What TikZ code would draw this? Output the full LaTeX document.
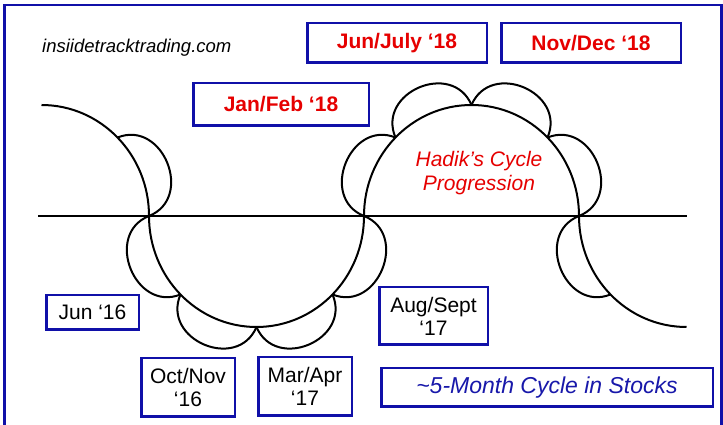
\documentclass[tikz,border=0pt]{standalone}
\usepackage{fontspec}
\setmainfont{Liberation Sans}
\usetikzlibrary{calc}
\definecolor{boxblue}{RGB}{16,16,168}
\definecolor{textblue}{RGB}{24,24,170}
\definecolor{myred}{RGB}{230,0,0}
\newcommand\bulgeL[2]{\draw[curve] (#1) .. controls ($(#1)!49pt!90:(#2)$) and ($(#2)!49pt!-90:(#1)$) .. (#2);}
\newcommand\bulgeR[2]{\draw[curve] (#1) .. controls ($(#1)!49pt!-90:(#2)$) and ($(#2)!49pt!90:(#1)$) .. (#2);}
\tikzset{
  curve/.style={line width=2pt, draw=black},
  datebox/.style={draw=boxblue, line width=2.5pt, inner sep=0pt, align=center, text=black, font=\fontsize{21}{23}\selectfont},
  redbox/.style={datebox, text=myred, font=\fontsize{21}{23}\selectfont\bfseries},
}
\begin{document}
\begin{tikzpicture}[x=1pt,y=1pt]
\useasboundingbox (0,0) rectangle (723,425);
\clip (0,0) rectangle (723,425);
\fill[white] (0,0) rectangle (723,425);
% frame
\draw[draw=boxblue, line width=2.5pt] (4.5,-10) rectangle (721.5,420);

% axis
\coordinate (hl0) at (38,209);
\coordinate (hl1) at (687,209);
\draw[curve] (hl0) -- (hl1);

% big wave
\coordinate (c1) at (41.5,209);
\coordinate (c2) at (256.5,209);
\coordinate (c3) at (471.5,209);
\coordinate (c4) at (686.5,209);
\coordinate (w0) at ($(c1)+(90:107.5 and 111)$);
\draw[curve] (w0) arc[start angle=90, end angle=0, x radius=107.5, y radius=111]
  arc[start angle=180, end angle=360, x radius=107.5, y radius=111]
  arc[start angle=180, end angle=0, x radius=107.5, y radius=111]
  arc[start angle=180, end angle=270, x radius=107.5, y radius=111];

% points on the wave
\coordinate (p1a) at ($(c1)+(45:107.5 and 111)$);
\coordinate (p1b) at ($(c1)+(0:107.5 and 111)$);
\foreach \i/\a in {0/180,1/225,2/270,3/315,4/360}{
  \coordinate (q\i) at ($(c2)+(\a:107.5 and 111)$);
}
\foreach \i/\a in {0/180,1/135,2/90,3/45,4/0}{
  \coordinate (r\i) at ($(c3)+(\a:107.5 and 111)$);
}
\coordinate (s0) at ($(c4)+(180:107.5 and 111)$);
\coordinate (s1) at ($(c4)+(225:107.5 and 111)$);

% small loops
\bulgeL{p1a}{p1b}
\bulgeR{q0}{q1}
\bulgeR{q1}{q2}
\bulgeR{q2}{q3}
\bulgeR{q3}{q4}
\bulgeL{r0}{r1}
\bulgeL{r1}{r2}
\bulgeL{r2}{r3}
\bulgeL{r3}{r4}
\bulgeR{s0}{s1}

% texts
\node[anchor=base west, inner sep=0pt, font=\fontsize{18.5}{20}\selectfont\itshape] (site) at (42,372) {insiidetracktrading.com};
\node[text=myred, align=center, inner sep=0pt, font=\fontsize{21}{24}\selectfont\itshape] (hadik) at (479,251.5) {Hadik’s Cycle\\Progression};

% boxes
\node[redbox, minimum width=179.5pt, minimum height=39.5pt] (jj18) at (397,382) {Jun/July ‘18};
\node[redbox, minimum width=179.5pt, minimum height=39.5pt] (nd18) at (591,382) {Nov/Dec ‘18};
\node[redbox, minimum width=175.5pt, minimum height=42.5pt] (jf18) at (281,320.5) {Jan/Feb ‘18};
\node[datebox, minimum width=92.5pt, minimum height=34.5pt] (j16) at (92.5,112.5) {Jun ‘16};
\node[datebox, minimum width=93.5pt, minimum height=58.5pt] (on16) at (188,37.5) {Oct/Nov\\‘16};
\node[datebox, minimum width=93.5pt, minimum height=58.5pt] (ma17) at (305,38.5) {Mar/Apr\\‘17};
\node[datebox, minimum width=108.5pt, minimum height=57.5pt] (as17) at (433.5,109) {Aug/Sept\\‘17};
\node[datebox, text=textblue, minimum width=331.5pt, minimum height=38.5pt, font=\fontsize{23}{25}\selectfont\itshape] (cyc) at (547,37.5) {\textasciitilde 5-Month Cycle in Stocks};
\end{tikzpicture}
\end{document}
